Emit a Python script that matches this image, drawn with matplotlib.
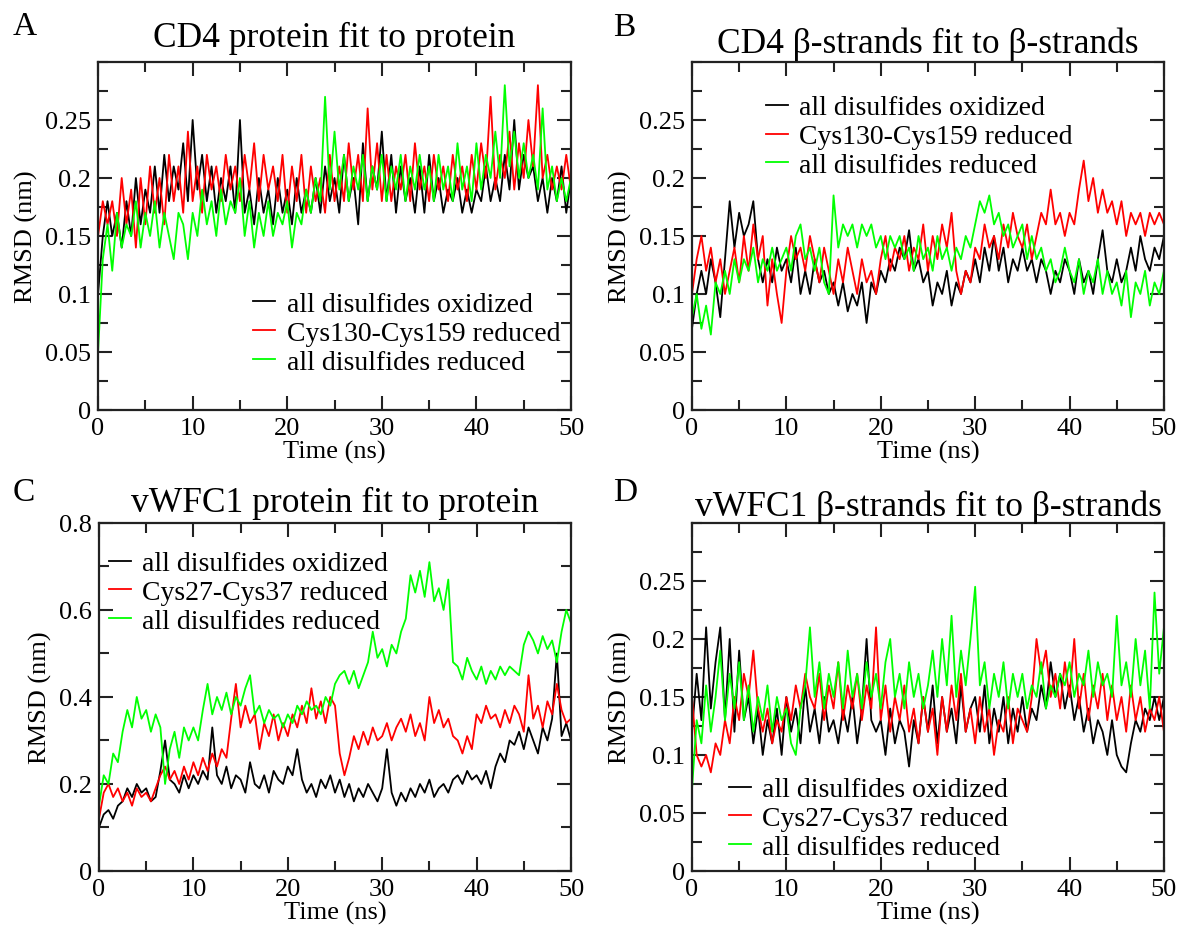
import numpy as np
import matplotlib
matplotlib.use("Agg")
import matplotlib.pyplot as plt
from matplotlib.ticker import MultipleLocator, FuncFormatter

plt.rcParams['font.family'] = ['Liberation Serif', 'DejaVu Serif']

## RMSD traces (nm), every 0.5 ns from 0 to 50 ns
# A: CD4 protein fit to protein
a_ox = [0.10, 0.15, 0.18, 0.15, 0.17, 0.14, 0.18, 0.15, 0.20, 0.16,
        0.19, 0.17, 0.21, 0.17, 0.22, 0.18, 0.21, 0.19, 0.23, 0.18,
        0.25, 0.19, 0.22, 0.18, 0.21, 0.17, 0.20, 0.18, 0.21, 0.17,
        0.25, 0.17, 0.19, 0.16, 0.20, 0.17, 0.19, 0.16, 0.20, 0.17,
        0.19, 0.16, 0.20, 0.17, 0.19, 0.17, 0.20, 0.17, 0.21, 0.18,
        0.20, 0.17, 0.22, 0.18, 0.20, 0.16, 0.23, 0.18, 0.21, 0.19,
        0.24, 0.18, 0.22, 0.17, 0.21, 0.18, 0.20, 0.17, 0.21, 0.17,
        0.22, 0.18, 0.20, 0.17, 0.19, 0.18, 0.20, 0.17, 0.19, 0.17,
        0.19, 0.18, 0.21, 0.18, 0.20, 0.18, 0.22, 0.19, 0.25, 0.19,
        0.22, 0.20, 0.21, 0.18, 0.20, 0.17, 0.20, 0.18, 0.21, 0.17,
        0.20]
a_cys = [0.15, 0.18, 0.16, 0.18, 0.15, 0.20, 0.16, 0.19, 0.14, 0.20,
         0.16, 0.21, 0.17, 0.20, 0.16, 0.22, 0.18, 0.21, 0.17, 0.24,
         0.18, 0.21, 0.17, 0.22, 0.19, 0.21, 0.18, 0.22, 0.19, 0.21,
         0.18, 0.22, 0.19, 0.23, 0.18, 0.22, 0.19, 0.21, 0.18, 0.22,
         0.17, 0.21, 0.18, 0.22, 0.17, 0.21, 0.18, 0.20, 0.17, 0.22,
         0.18, 0.21, 0.18, 0.23, 0.19, 0.22, 0.18, 0.26, 0.19, 0.23,
         0.18, 0.22, 0.18, 0.21, 0.19, 0.22, 0.18, 0.23, 0.19, 0.21,
         0.18, 0.22, 0.19, 0.21, 0.18, 0.22, 0.19, 0.21, 0.18, 0.22,
         0.19, 0.23, 0.20, 0.27, 0.19, 0.22, 0.20, 0.24, 0.19, 0.23,
         0.20, 0.25, 0.21, 0.28, 0.20, 0.22, 0.19, 0.21, 0.19, 0.22,
         0.19]
a_red = [0.05, 0.13, 0.16, 0.12, 0.17, 0.14, 0.16, 0.15, 0.18, 0.14,
         0.17, 0.15, 0.18, 0.14, 0.17, 0.15, 0.13, 0.17, 0.16, 0.13,
         0.17, 0.15, 0.19, 0.16, 0.18, 0.15, 0.19, 0.16, 0.18, 0.17,
         0.20, 0.15, 0.18, 0.14, 0.17, 0.15, 0.18, 0.15, 0.17, 0.16,
         0.18, 0.14, 0.17, 0.16, 0.19, 0.17, 0.20, 0.18, 0.27, 0.19,
         0.24, 0.19, 0.22, 0.18, 0.21, 0.19, 0.22, 0.18, 0.21, 0.19,
         0.22, 0.18, 0.21, 0.19, 0.22, 0.18, 0.21, 0.19, 0.22, 0.19,
         0.21, 0.18, 0.22, 0.19, 0.21, 0.18, 0.23, 0.19, 0.21, 0.18,
         0.23, 0.19, 0.22, 0.20, 0.24, 0.20, 0.28, 0.21, 0.24, 0.20,
         0.23, 0.20, 0.22, 0.19, 0.26, 0.19, 0.21, 0.18, 0.20, 0.18,
         0.20]

# B: CD4 beta-strands fit to beta-strands
b_ox = [0.07, 0.10, 0.12, 0.10, 0.13, 0.11, 0.08, 0.13, 0.18, 0.14,
        0.17, 0.15, 0.16, 0.18, 0.13, 0.11, 0.13, 0.11, 0.14, 0.12,
        0.13, 0.11, 0.14, 0.10, 0.12, 0.10, 0.13, 0.11, 0.12, 0.10,
        0.11, 0.09, 0.11, 0.085, 0.10, 0.09, 0.11, 0.075, 0.11, 0.10,
        0.12, 0.11, 0.13, 0.12, 0.14, 0.13, 0.155, 0.12, 0.13, 0.11,
        0.12, 0.09, 0.11, 0.10, 0.12, 0.09, 0.11, 0.10, 0.12, 0.11,
        0.13, 0.11, 0.14, 0.12, 0.15, 0.12, 0.14, 0.11, 0.13, 0.12,
        0.14, 0.12, 0.13, 0.11, 0.13, 0.12, 0.10, 0.12, 0.11, 0.13,
        0.12, 0.10, 0.13, 0.11, 0.12, 0.10, 0.13, 0.155, 0.12, 0.11,
        0.13, 0.11, 0.12, 0.14, 0.12, 0.15, 0.13, 0.12, 0.14, 0.13,
        0.15]
b_cys = [0.10, 0.13, 0.15, 0.12, 0.14, 0.11, 0.13, 0.10, 0.12, 0.14,
         0.11, 0.15, 0.12, 0.16, 0.13, 0.15, 0.09, 0.13, 0.10, 0.075,
         0.12, 0.15, 0.13, 0.14, 0.12, 0.15, 0.13, 0.11, 0.14, 0.12,
         0.10, 0.13, 0.11, 0.14, 0.12, 0.10, 0.13, 0.11, 0.12, 0.10,
         0.13, 0.15, 0.12, 0.14, 0.13, 0.15, 0.12, 0.14, 0.13, 0.16,
         0.12, 0.15, 0.13, 0.16, 0.14, 0.17, 0.12, 0.10, 0.12, 0.11,
         0.14, 0.13, 0.16, 0.14, 0.15, 0.13, 0.16, 0.14, 0.17, 0.15,
         0.14, 0.16, 0.13, 0.15, 0.17, 0.16, 0.19, 0.16, 0.17, 0.15,
         0.17, 0.16, 0.19, 0.215, 0.18, 0.20, 0.17, 0.19, 0.17, 0.18,
         0.16, 0.18, 0.15, 0.17, 0.16, 0.17, 0.15, 0.17, 0.16, 0.17,
         0.16]
b_red = [0.08, 0.10, 0.07, 0.09, 0.065, 0.11, 0.10, 0.12, 0.10, 0.13,
         0.11, 0.13, 0.12, 0.14, 0.11, 0.13, 0.12, 0.14, 0.12, 0.13,
         0.14, 0.12, 0.15, 0.16, 0.13, 0.14, 0.12, 0.14, 0.11, 0.10,
         0.185, 0.14, 0.16, 0.15, 0.16, 0.14, 0.16, 0.15, 0.16, 0.14,
         0.15, 0.13, 0.15, 0.14, 0.15, 0.13, 0.14, 0.12, 0.15, 0.13,
         0.14, 0.12, 0.15, 0.13, 0.14, 0.12, 0.14, 0.13, 0.15, 0.14,
         0.16, 0.18, 0.17, 0.185, 0.16, 0.17, 0.15, 0.16, 0.14, 0.15,
         0.16, 0.13, 0.15, 0.13, 0.14, 0.12, 0.13, 0.11, 0.12, 0.14,
         0.12, 0.11, 0.13, 0.10, 0.12, 0.11, 0.13, 0.10, 0.12, 0.10,
         0.11, 0.09, 0.12, 0.08, 0.11, 0.10, 0.12, 0.09, 0.11, 0.10,
         0.12]

# C: vWFC1 protein fit to protein
c_ox = [0.10, 0.13, 0.14, 0.12, 0.15, 0.16, 0.19, 0.17, 0.20, 0.18,
        0.19, 0.16, 0.17, 0.23, 0.30, 0.21, 0.20, 0.18, 0.22, 0.19,
        0.22, 0.20, 0.23, 0.21, 0.33, 0.22, 0.20, 0.24, 0.19, 0.22,
        0.21, 0.18, 0.25, 0.20, 0.19, 0.22, 0.18, 0.23, 0.21, 0.20,
        0.24, 0.22, 0.28, 0.21, 0.18, 0.20, 0.17, 0.21, 0.19, 0.22,
        0.18, 0.21, 0.17, 0.20, 0.16, 0.19, 0.17, 0.20, 0.18, 0.16,
        0.19, 0.28, 0.18, 0.15, 0.18, 0.16, 0.19, 0.17, 0.20, 0.18,
        0.21, 0.17, 0.19, 0.20, 0.18, 0.21, 0.22, 0.20, 0.23, 0.21,
        0.22, 0.20, 0.23, 0.19, 0.24, 0.27, 0.25, 0.30, 0.29, 0.32,
        0.28, 0.33, 0.30, 0.27, 0.33, 0.30, 0.35, 0.50, 0.31, 0.34,
        0.30]
c_cys = [0.12, 0.18, 0.20, 0.17, 0.19, 0.16, 0.18, 0.15, 0.19, 0.17,
         0.18, 0.16, 0.19, 0.22, 0.24, 0.21, 0.23, 0.20, 0.24, 0.21,
         0.25, 0.22, 0.26, 0.23, 0.27, 0.24, 0.28, 0.26, 0.35, 0.43,
         0.33, 0.38, 0.34, 0.36, 0.28, 0.34, 0.31, 0.36, 0.30, 0.34,
         0.31, 0.36, 0.33, 0.38, 0.34, 0.42, 0.35, 0.39, 0.34, 0.40,
         0.38, 0.27, 0.22, 0.26, 0.31, 0.28, 0.32, 0.29, 0.33, 0.30,
         0.31, 0.34, 0.30, 0.33, 0.35, 0.32, 0.36, 0.31, 0.34, 0.30,
         0.40, 0.34, 0.37, 0.33, 0.35, 0.31, 0.30, 0.27, 0.31, 0.28,
         0.36, 0.34, 0.38, 0.35, 0.36, 0.33, 0.37, 0.34, 0.38, 0.36,
         0.32, 0.45, 0.35, 0.38, 0.33, 0.39, 0.36, 0.43, 0.37, 0.34,
         0.35]
c_red = [0.15, 0.22, 0.20, 0.27, 0.25, 0.32, 0.37, 0.33, 0.40, 0.35,
         0.37, 0.32, 0.36, 0.33, 0.20, 0.28, 0.32, 0.26, 0.33, 0.30,
         0.33, 0.30, 0.37, 0.43, 0.36, 0.40, 0.37, 0.41, 0.36, 0.40,
         0.38, 0.42, 0.45, 0.36, 0.38, 0.34, 0.37, 0.35, 0.36, 0.33,
         0.36, 0.34, 0.38, 0.36, 0.39, 0.37, 0.38, 0.36, 0.40, 0.38,
         0.43, 0.45, 0.46, 0.43, 0.46, 0.42, 0.45, 0.48, 0.55, 0.49,
         0.51, 0.47, 0.52, 0.50, 0.55, 0.58, 0.68, 0.64, 0.69, 0.63,
         0.71, 0.62, 0.65, 0.60, 0.67, 0.48, 0.47, 0.44, 0.49, 0.46,
         0.44, 0.47, 0.43, 0.46, 0.44, 0.47, 0.45, 0.47, 0.46, 0.45,
         0.52, 0.55, 0.53, 0.50, 0.54, 0.51, 0.53, 0.48, 0.55, 0.60,
         0.57]

# D: vWFC1 beta-strands fit to beta-strands
d_ox = [0.12, 0.17, 0.13, 0.21, 0.14, 0.18, 0.21, 0.13, 0.20, 0.12,
        0.19, 0.13, 0.15, 0.11, 0.14, 0.10, 0.13, 0.11, 0.14, 0.10,
        0.15, 0.12, 0.14, 0.11, 0.16, 0.12, 0.14, 0.11, 0.15, 0.12,
        0.13, 0.11, 0.14, 0.12, 0.15, 0.11, 0.14, 0.20, 0.13, 0.12,
        0.13, 0.10, 0.14, 0.11, 0.13, 0.12, 0.09, 0.13, 0.11, 0.15,
        0.12, 0.16, 0.11, 0.15, 0.12, 0.14, 0.11, 0.16, 0.12, 0.14,
        0.15, 0.12, 0.16, 0.11, 0.14, 0.12, 0.15, 0.11, 0.14, 0.12,
        0.15, 0.12, 0.14, 0.13, 0.16, 0.14, 0.18, 0.15, 0.17, 0.14,
        0.16, 0.13, 0.15, 0.12, 0.14, 0.11, 0.13, 0.12, 0.10, 0.13,
        0.10, 0.09, 0.085, 0.11, 0.13, 0.12, 0.14, 0.13, 0.15, 0.13,
        0.15]
d_cys = [0.15, 0.10, 0.09, 0.10, 0.085, 0.11, 0.10, 0.13, 0.11, 0.15,
         0.13, 0.17, 0.15, 0.19, 0.14, 0.12, 0.14, 0.11, 0.13, 0.12,
         0.15, 0.13, 0.16, 0.14, 0.17, 0.15, 0.14, 0.17, 0.13, 0.16,
         0.14, 0.18, 0.13, 0.16, 0.14, 0.17, 0.13, 0.16, 0.14, 0.21,
         0.13, 0.16, 0.12, 0.15, 0.13, 0.16, 0.12, 0.14, 0.11, 0.15,
         0.12, 0.14, 0.10, 0.15, 0.12, 0.16, 0.13, 0.17, 0.12, 0.14,
         0.11, 0.15, 0.12, 0.14, 0.10, 0.13, 0.12, 0.15, 0.11, 0.14,
         0.13, 0.12, 0.15, 0.20, 0.17, 0.19, 0.15, 0.17, 0.14, 0.18,
         0.15, 0.20, 0.14, 0.17, 0.13, 0.16, 0.14, 0.17, 0.13, 0.16,
         0.13, 0.15, 0.12, 0.16, 0.13, 0.15, 0.12, 0.14, 0.13, 0.15,
         0.12]
d_red = [0.07, 0.13, 0.11, 0.16, 0.12, 0.15, 0.19, 0.13, 0.17, 0.14,
         0.18, 0.13, 0.16, 0.12, 0.15, 0.13, 0.16, 0.12, 0.15, 0.13,
         0.14, 0.11, 0.10, 0.14, 0.16, 0.21, 0.15, 0.18, 0.14, 0.17,
         0.15, 0.18, 0.14, 0.19, 0.15, 0.17, 0.14, 0.18, 0.15, 0.17,
         0.14, 0.18, 0.20, 0.15, 0.17, 0.14, 0.18, 0.15, 0.17, 0.14,
         0.16, 0.19, 0.15, 0.20, 0.16, 0.22, 0.15, 0.19, 0.16, 0.20,
         0.245, 0.16, 0.18, 0.14, 0.17, 0.15, 0.18, 0.14, 0.17, 0.15,
         0.17, 0.14, 0.16, 0.15, 0.18, 0.14, 0.16, 0.15, 0.17, 0.16,
         0.18, 0.15, 0.17, 0.16, 0.19, 0.15, 0.18, 0.16, 0.17, 0.15,
         0.22, 0.16, 0.18, 0.15, 0.20, 0.16, 0.19, 0.14, 0.24, 0.17,
         0.21]

labels_cd4 = ["all disulfides oxidized", "Cys130-Cys159 reduced", "all disulfides reduced"]
labels_vwf = ["all disulfides oxidized", "Cys27-Cys37 reduced", "all disulfides reduced"]
colors = ["black", "#ff0000", "#00ff00"]

panels = [
    # letter, title, series, labels, ymax, ymajor, yminor, axes rect, title pad, legend anchor
    ("A", "CD4 protein fit to protein", [a_ox, a_cys, a_red], labels_cd4,
     0.3, 0.05, 0.025, [0.0831, 0.5576, 0.4008, 0.3746], 11.5, (0.328, 0.34)),
    ("B", "CD4 \u03b2-strands fit to \u03b2-strands", [b_ox, b_cys, b_red], labels_cd4,
     0.3, 0.05, 0.025, [0.5864, 0.5576, 0.4000, 0.3746], 7.5, (0.157, 0.905)),
    ("C", "vWFC1 protein fit to protein", [c_ox, c_cys, c_red], labels_vwf,
     0.8, 0.2, 0.1, [0.0839, 0.0614, 0.4000, 0.3746], 8.5, (0.021, 0.92)),
    ("D", "vWFC1 \u03b2-strands fit to \u03b2-strands", [d_ox, d_cys, d_red], labels_vwf,
     0.3, 0.05, 0.025, [0.5864, 0.0614, 0.4000, 0.3746], 5.0, (0.078, 0.27)),
]
letter_pos = {"A": (13, 27), "B": (613, 28), "C": (13, 493), "D": (613, 493)}

fig = plt.figure(figsize=(11.8, 9.29), dpi=100)

for letter, title, series, labels, ymax, ymaj, ymin, rect, tpad, lpos in panels:
    ax = fig.add_axes(rect)
    for ys, c, lab in zip(series, colors, labels):
        t = np.linspace(0, 50, len(ys))
        ax.plot(t, ys, color=c, lw=1.3, label=lab)
    ax.set_xlim(0, 50)
    ax.set_ylim(0, ymax)
    if ymax < 0.5:
        ax.set_yticks([0, 0.05, 0.1, 0.15, 0.2, 0.25])
    else:
        ax.yaxis.set_major_locator(MultipleLocator(ymaj))
    ax.yaxis.set_minor_locator(MultipleLocator(ymin))
    ax.xaxis.set_major_locator(MultipleLocator(10))
    ax.xaxis.set_minor_locator(MultipleLocator(5))
    fmt = FuncFormatter(lambda v, p: "%g" % round(v, 3))
    ax.yaxis.set_major_formatter(fmt)
    ax.xaxis.set_major_formatter(fmt)
    ax.tick_params(which="both", direction="in", top=True, right=True,
                   width=1.5, labelsize=19, color="#222222")
    ax.tick_params(which="major", length=10, pad=5)
    ax.tick_params(which="minor", length=7)
    for s in ax.spines.values():
        s.set_linewidth(1.6)
        s.set_color("#222222")
    ax.set_xlabel("Time (ns)", fontsize=19, labelpad=1)
    ax.set_ylabel("RMSD (nm)", fontsize=19, labelpad=5)
    ax.set_title(title, fontsize=25.5, pad=tpad)
    leg = ax.legend(loc="upper left", bbox_to_anchor=lpos, frameon=False, fontsize=20,
                    handlelength=0.8, handletextpad=0.4, labelspacing=0.12,
                    borderpad=0, borderaxespad=0)
    for h in leg.get_lines():
        h.set_linewidth(1.3)
    px, py = letter_pos[letter]
    fig.text(px / 1180, 1 - py / 929, letter, fontsize=24, ha="left", va="center")

fig.savefig("out.png", dpi=100)
